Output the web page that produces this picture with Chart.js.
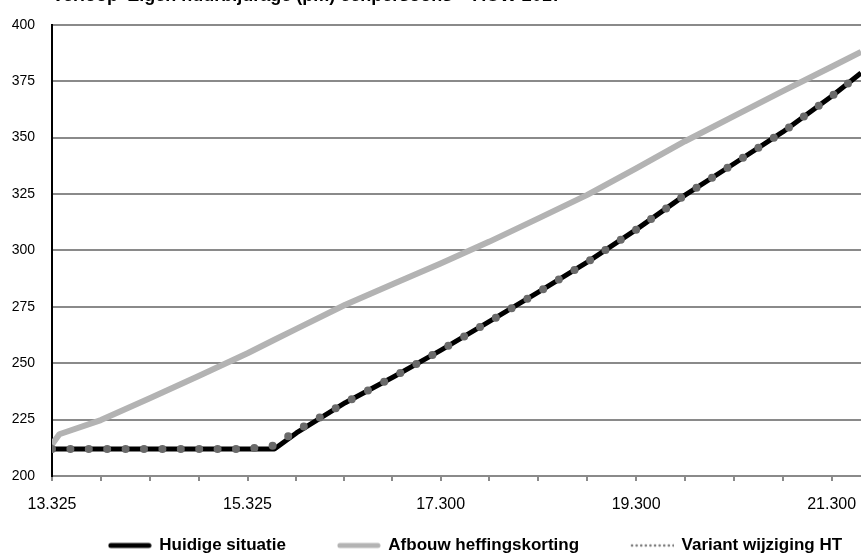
<!DOCTYPE html>
<html>
<head>
<meta charset="utf-8">
<title>Verloop eigen bijdrage</title>
<script src="https://cdn.jsdelivr.net/npm/chart.js"></script>
<style>
    html, body { margin: 0; padding: 0; background: #fff; }
    #wrap { width: 861px; height: 554px; overflow: hidden; position: relative; }
    #myChart { position: absolute; left: 0; top: -14px; }
</style>
</head>
<body>
<div id="wrap"><canvas id="myChart" width="861" height="578"></canvas></div>
<script>
// inkomen (x) en eigen bijdrage per maand (y)
var incomes = [13325, 13400, 13825, 14325, 14825, 15325, 15600, 15825, 16325, 16825, 17300, 17800, 18300, 18800, 19300, 19800, 20300, 20800, 21300, 21600];
var huidige = [212, 212, 212, 212, 212, 212, 212, 219.1, 232.5, 244.1, 255.7, 268.5, 281.5, 294.8, 309.2, 324.5, 338.4, 352.5, 368.3, 378.6];
var afbouw = [214, 218.5, 224.8, 234.5, 244.3, 254.4, 260.4, 265.2, 275.9, 285.3, 294.2, 303.9, 314.2, 324.6, 336.4, 348.4, 359.5, 370.6, 381.4, 388];
var variant = [212, 212, 212, 212, 212, 212, 213.5, 220, 232.5, 244.1, 255.7, 268.5, 281.5, 294.8, 309.2, 324.5, 338.4, 352.5, 368.3, 378.6];

var tickIncomes = [13325, 13825, 14325, 14825, 15325, 15819, 16313, 16806, 17300, 17800, 18300, 18800, 19300, 19800, 20300, 20800, 21300];
var labelIncomes = [13325, 15325, 17300, 19300, 21300];
var labelTexts = ['13.325', '15.325', '17.300', '19.300', '21.300'];
var seriesNames = ['Huidige situatie', 'Afbouw heffingskorting', 'Variant wijziging HT'];
var titleText = "Verloop 'Eigen huurbijdrage (pm) eenpersoons < AOW 2017";

var fontName = '"Liberation Sans", Arial, sans-serif';
var gridGray = '#8a8a8a';

function toPoints(ys) {
    var pts = [];
    for (var k = 0; k < incomes.length; k++) {
        pts.push({ x: incomes[k], y: ys[k] });
    }
    return pts;
}

// small pictures used as legend symbols
function makeSample(kind) {
    var c = document.createElement('canvas');
    c.width = 44;
    c.height = 8;
    var g = c.getContext('2d');
    if (kind === 'dots') {
        g.fillStyle = '#7a7a7a';
        for (var px = 2; px < 44; px += 4.6) {
            g.beginPath();
            g.arc(px, 4, 1.3, 0, Math.PI * 2);
            g.fill();
        }
    }
    else {
        g.strokeStyle = kind;
        g.lineWidth = 5;
        g.lineCap = 'round';
        g.beginPath();
        g.moveTo(3, 4);
        g.lineTo(41, 4);
        g.stroke();
    }
    return c;
}
var legendSamples = [makeSample('#000'), makeSample('#b3b3b3'), makeSample('dots')];
var legendGaps = ['           ', '           ', '    '];

var ctx = document.getElementById('myChart').getContext('2d');
var myChart = new Chart(ctx, {
    type: 'line',
    data: {
        datasets: [{
            label: seriesNames[0],
            data: toPoints(huidige),
            borderColor: '#000',
            borderWidth: 5,
            borderJoinStyle: 'round',
            pointRadius: 0,
            order: 1
        }, {
            label: seriesNames[1],
            data: toPoints(afbouw),
            borderColor: '#b3b3b3',
            borderWidth: 6,
            borderJoinStyle: 'round',
            pointRadius: 0,
            order: 2
        }, {
            label: seriesNames[2],
            data: toPoints(variant),
            borderColor: '#6a6a6a',
            borderWidth: 8,
            borderDash: [0, 18.4],
            borderCapStyle: 'round',
            pointRadius: 0,
            order: 0
        }]
    },
    options: {
        responsive: false,
        animation: false,
        layout: { padding: { left: 12, right: 0, top: 0, bottom: 0 } },
        scales: {
            x: {
                type: 'linear',
                min: 13325,
                max: 21600,
                afterBuildTicks: function (scale) {
                    scale.ticks = tickIncomes.map(function (v) { return { value: v }; });
                },
                afterFit: function (scale) {
                    scale.height = 61;
                    scale.paddingLeft = 0;
                    scale.paddingRight = 0;
                },
                ticks: {
                    autoSkip: false,
                    maxRotation: 0,
                    padding: 14,
                    color: '#000',
                    font: { family: fontName, size: 16 },
                    callback: function (value) {
                        var i = labelIncomes.indexOf(value);
                        return i >= 0 ? labelTexts[i] : '';
                    }
                },
                grid: { drawOnChartArea: false, color: gridGray, lineWidth: 2, tickLength: 5 },
                border: { color: gridGray, width: 2 }
            },
            y: {
                min: 200,
                max: 400,
                afterFit: function (scale) {
                    scale.width = 40;
                },
                ticks: {
                    stepSize: 25,
                    padding: 17,
                    color: '#000',
                    font: { family: fontName, size: 14 }
                },
                grid: { color: gridGray, lineWidth: 2, drawTicks: false },
                border: { color: '#000', width: 2 }
            }
        },
        plugins: {
            title: {
                display: true,
                text: titleText,
                align: 'start',
                fullSize: false,
                color: '#000',
                font: { family: fontName, size: 18, weight: 'bold', lineHeight: 1.1 },
                padding: { top: 0, bottom: 19 }
            },
            legend: {
                position: 'bottom',
                align: 'end',
                labels: {
                    usePointStyle: true,
                    pointStyleWidth: 42,
                    boxHeight: 8,
                    padding: 0,
                    color: '#000',
                    font: { family: fontName, size: 17, weight: 'bold' },
                    generateLabels: function (chart) {
                        var items = [];
                        for (var k = 0; k < seriesNames.length; k++) {
                            items.push({
                                text: seriesNames[k] + legendGaps[k],
                                pointStyle: legendSamples[k],
                                fillStyle: 'transparent',
                                strokeStyle: 'transparent',
                                lineWidth: 0,
                                fontColor: '#000',
                                hidden: false,
                                datasetIndex: k
                            });
                        }
                        return items;
                    }
                }
            },
            tooltip: { enabled: false }
        }
    }
});
</script>
</body>
</html>
